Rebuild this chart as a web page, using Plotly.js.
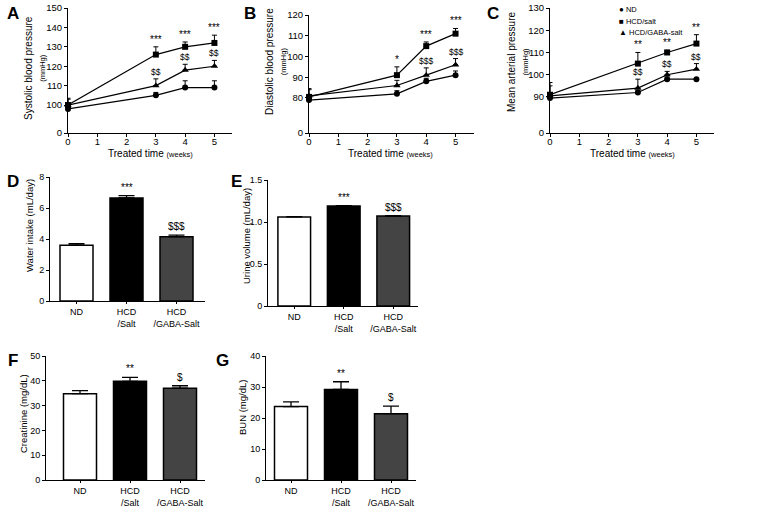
<!DOCTYPE html>
<html><head><meta charset="utf-8">
<script src="https://cdn.plot.ly/plotly-3.0.1.min.js"></script>
<style>html,body{margin:0;padding:0;background:#fff}#chart{width:779px;height:508px}</style>
</head><body><div id="chart"></div>
<script>
// ---- data ----
const weeks = [0, 3, 4, 5];
const seriesNames = ['ND', 'HCD/salt', 'HCD/GABA-salt'];
const legendGlyphs = ['\u25CF', '\u25A0', '\u25B2'];
// Systolic blood pressure (mmHg)
const sbpND = [98, 105, 109, 109];      const sbpNDErr = [1.5, 1.5, 3.5, 3.5];
const sbpHCD = [100, 126, 130, 132];    const sbpHCDErr = [3.5, 4, 2.5, 4];
const sbpGABA = [100, 110, 118, 120];   const sbpGABAErr = [3, 3.5, 3, 3];
const sbpHCDSig = ['', '***', '***', '***'];
const sbpGABASig = ['', '$$', '$$', '$$'];
// Diastolic blood pressure (mmHg)
const dbpND = [79, 82, 88, 91];         const dbpNDErr = [1, 1.5, 1.5, 2];
const dbpHCD = [80.5, 91, 105, 111];    const dbpHCDErr = [4, 4, 2, 2.5];
const dbpGABA = [81, 86, 91, 96];       const dbpGABAErr = [3, 2.5, 3.5, 3];
const dbpHCDSig = ['', '*', '***', '***'];
const dbpGABASig = ['', '', '$$$', '$$$'];
// Mean arterial pressure (mmHg)
const mapND = [89.5, 92, 98, 98];       const mapNDErr = [1, 1, 1, 0.3];
const mapHCD = [91, 105, 110, 114];     const mapHCDErr = [4, 5, 1, 4];
const mapGABA = [90.5, 94, 100, 102.5]; const mapGABAErr = [6, 4, 1.5, 2.5];
const mapHCDSig = ['', '**', '**', '**'];
const mapGABASig = ['', '$$', '$$', '$$'];
// Bar panels
const groups = ['ND', 'HCD<br>/Salt', 'HCD<br>/GABA-Salt'];
const water = [3.6, 6.65, 4.15];    const waterErr = [0.1, 0.15, 0.1];   const waterSig = ['', '***', '$$$'];
const urine = [1.06, 1.19, 1.07];   const urineErr = [0.004, 0.006, 0.006]; const urineSig = ['', '***', '$$$'];
const creat = [34.8, 39.8, 37.0];   const creatErr = [1.2, 1.6, 1.0];    const creatSig = ['', '**', '$'];
const bun = [23.7, 29.2, 21.4];     const bunErr = [1.5, 2.5, 2.4];      const bunSig = ['', '**', '$'];
const barColors = ['#ffffff', '#000000', '#444444'];

// ---- helpers ----
const W = 779, H = 508;
const FONT = 'Liberation Sans, Arial, sans-serif';
const px = (a, b) => [a / W, b / W];
const py = (top, bottom) => [1 - bottom / H, 1 - top / H];
// broken-axis transforms (0 then jump to base)
function brk(base, gap) { return v => (v === 0 ? 0 : v - base + gap); }
const tA = brk(100, 14.4), tB = brk(80, 16.9), tC = brk(90, 16.2);

const traces = [];
const annotations = [];
const markers = ['circle', 'square', 'triangle-up'];
function paperText(text, x, y, size, opts) {
  annotations.push(Object.assign({xref: 'paper', yref: 'paper', x: x / W, y: 1 - y / H, text,
    showarrow: false, xanchor: 'center', yanchor: 'middle', font: {family: FONT, size, color: '#000'}}, opts || {}));
}

function lineSeries(idx, ax, t, vals, errs) {
  const up = vals.map((v, i) => t(v + errs[i]) - t(v));
  traces.push({
    x: weeks, y: vals.map(t), xaxis: 'x' + ax, yaxis: 'y' + ax,
    type: 'scatter', mode: 'lines+markers', name: seriesNames[idx],
    showlegend: false, cliponaxis: false,
    line: {color: '#000', width: 1.2},
    marker: {symbol: markers[idx], size: idx === 2 ? 6.5 : 6, color: '#000'},
    error_y: {type: 'data', array: up, arrayminus: up.map(() => 0), symmetric: false,
      color: '#000', thickness: 1, width: 2.5}
  });
}
function sigLabels(ax, t, vals, errs, labels, size) {
  labels.forEach((s, i) => {
    if (!s) return;
    annotations.push({xref: 'x' + ax, yref: 'y' + ax, x: weeks[i], y: t(vals[i] + errs[i]),
      text: s, showarrow: false, yanchor: 'bottom', yshift: 0,
      font: {family: FONT, size: size, color: '#000'}});
  });
}
function linePanel(ax, t, sets) {
  sets.forEach((s, idx) => lineSeries(idx, ax, t, s[0], s[1]));
}
linePanel('', tA, [[sbpND, sbpNDErr], [sbpHCD, sbpHCDErr], [sbpGABA, sbpGABAErr]]);
linePanel('2', tB, [[dbpND, dbpNDErr], [dbpHCD, dbpHCDErr], [dbpGABA, dbpGABAErr]]);
linePanel('3', tC, [[mapND, mapNDErr], [mapHCD, mapHCDErr], [mapGABA, mapGABAErr]]);
sigLabels('', tA, sbpHCD, sbpHCDErr, sbpHCDSig, 10);
sigLabels('', tA, sbpGABA, sbpGABAErr, sbpGABASig, 8.5);
sigLabels('2', tB, dbpHCD, dbpHCDErr, dbpHCDSig, 10);
sigLabels('2', tB, dbpGABA, dbpGABAErr, dbpGABASig, 8.5);
sigLabels('3', tC, mapHCD, mapHCDErr, mapHCDSig, 10);
sigLabels('3', tC, mapGABA, mapGABAErr, mapGABASig, 8.5);

function barPanel(ax, vals, errs, sig) {
  traces.push({
    x: groups, y: vals, xaxis: 'x' + ax, yaxis: 'y' + ax, type: 'bar', width: 0.66,
    showlegend: false,
    marker: {color: barColors, line: {color: '#000', width: 1.5}},
    error_y: {type: 'data', array: errs, arrayminus: errs.map(() => 0), symmetric: false,
      color: '#000', thickness: 1.3, width: 8}
  });
  sig.forEach((s, i) => {
    if (!s) return;
    annotations.push({xref: 'x' + ax, yref: 'y' + ax, x: groups[i], y: vals[i] + errs[i],
      text: s, showarrow: false, yanchor: 'bottom', yshift: 1,
      font: {family: FONT, size: 10, color: '#000'}});
  });
}
barPanel('4', water, waterErr, waterSig);
barPanel('5', urine, urineErr, urineSig);
barPanel('6', creat, creatErr, creatSig);
barPanel('7', bun, bunErr, bunSig);

// panel letters
[['A', 13, 14], ['B', 250, 14], ['C', 493, 14], ['D', 13, 181], ['E', 236, 181], ['F', 13, 360], ['G', 222, 360]]
  .forEach(([l, x, y]) => paperText('<b>' + l + '</b>', x, y, 17));

// y-axis titles (line panels: two lines, second smaller)
const mm = '<br><span style="font-size:7.5px">(mmHg)</span>';
paperText('Systolic blood pressure' + mm, 35, 68, 10, {textangle: -90});
paperText('Diastolic blood pressure' + mm, 276, 62, 10, {textangle: -90});
paperText('Mean arterial pressure' + mm, 518, 62, 10, {textangle: -90});
// x-axis titles
const xt = 'Treated time <span style="font-size:7.5px">(weeks)</span>';
paperText(xt, 150, 153, 10);
paperText(xt, 391, 153, 10);
paperText(xt, 632, 153, 10);
// bar panel y titles
paperText('Water intake (mL/day)', 29, 226, 9.5, {textangle: -90});
paperText('Urine volume (mL/day)', 246, 236, 9.5, {textangle: -90});
paperText('Creatinine (mg/dL)', 23, 414, 9.5, {textangle: -90});
paperText('BUN (mg/dL)', 242, 408, 9.5, {textangle: -90});
// legend (panel C)
seriesNames.forEach((n, i) => {
  paperText('<span style="font-size:8px">' + legendGlyphs[i] + '</span> ' + n, 617, 10 + i * 11, 7.5, {xanchor: 'left'});
});

const axBase = {showline: true, linecolor: '#000', linewidth: 1, ticks: 'outside', ticklen: 3,
  tickcolor: '#000', tickwidth: 1, showgrid: false, zeroline: false,
  tickfont: {family: FONT, size: 9, color: '#000'}};
function lineX(domain, anchor, r) { return Object.assign({}, axBase, {domain, anchor, range: [0, r], tickvals: [0, 1, 2, 3, 4, 5],
  ticklabelstandoff: -3, tickfont: {family: FONT, size: 9.5, color: '#000'}}); }
function lineY(domain, t, ticks, anchor) {
  const top = ticks[ticks.length - 1];
  return Object.assign({}, axBase, {domain, anchor, range: [0, t(top)], tickvals: ticks.map(t), ticktext: ticks.map(String),
    tickfont: {family: FONT, size: 9.5, color: '#000'}});
}
function barX(domain, range, anchor) { return Object.assign({}, axBase, {domain, anchor, type: 'category', range, ticklen: 2}); }
function barY(domain, range, dtick, anchor) {
  return Object.assign({}, axBase, {domain, anchor, range, dtick});
}

const layout = {
  width: W, height: H, margin: {l: 0, r: 0, t: 0, b: 0},
  paper_bgcolor: '#fff', plot_bgcolor: 'rgba(0,0,0,0)',
  font: {family: FONT, color: '#000'},
  showlegend: false,
  xaxis: lineX(px(68, 232), 'y', 5.6),
  yaxis: lineY(py(8, 133), tA, [0, 100, 110, 120, 130, 140, 150], 'x'),
  xaxis2: lineX(px(309, 474), 'y2', 5.63),
  yaxis2: lineY(py(15, 133), tB, [0, 80, 90, 100, 110, 120], 'x2'),
  xaxis3: lineX(px(550, 714), 'y3', 5.6),
  yaxis3: lineY(py(8, 133), tC, [0, 90, 100, 110, 120, 130], 'x3'),
  xaxis4: barX(px(50, 205), [-0.53, 2.57], 'y4'),
  yaxis4: barY(py(177, 301), [0, 8], 2, 'x4'),
  xaxis5: barX(px(268, 418), [-0.53, 2.5], 'y5'),
  yaxis5: barY(py(180, 306), [0, 1.5], 0.5, 'x5'),
  xaxis6: barX(px(46, 205), [-0.68, 2.5], 'y6'),
  yaxis6: barY(py(356, 480), [0, 50], 10, 'x6'),
  xaxis7: barX(px(266, 416), [-0.5, 2.5], 'y7'),
  yaxis7: barY(py(356, 480), [0, 40], 10, 'x7'),
  annotations
};
layout.yaxis5.tickvals = [0, 0.5, 1.0, 1.5];
layout.yaxis5.ticktext = ['0', '0.5', '1.0', '1.5'];
Plotly.newPlot('chart', traces, layout, {staticPlot: true, displayModeBar: false});
</script></body></html>
